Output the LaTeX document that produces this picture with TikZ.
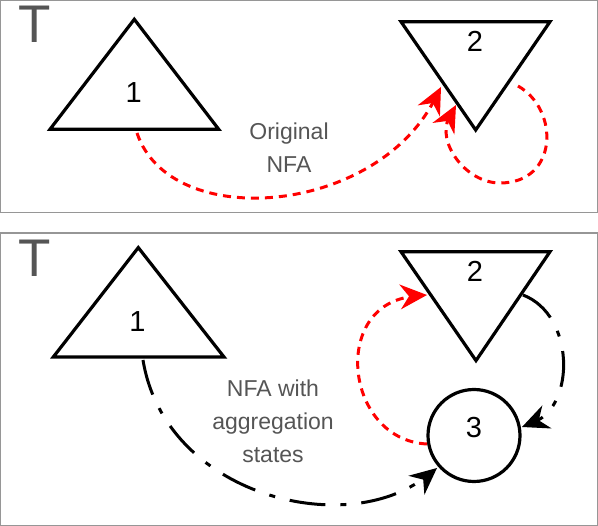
\documentclass[tikz,border=0pt]{standalone}
\usepackage{fontspec}
\setmainfont{Liberation Sans}
\definecolor{txtgray}{RGB}{85,85,85}
\definecolor{framegray}{RGB}{150,150,150}
\definecolor{arrred}{RGB}{255,0,0}
\tikzset{
  panel/.style={draw=framegray, line width=1.2pt},
  tri/.style={draw=black, line width=3.2pt, line join=miter},
  statecircle/.style={circle, draw=black, line width=3.2pt, minimum size=92pt, inner sep=0pt,
    font=\fontsize{29}{29}\selectfont, text height=8pt, text depth=3pt},
  redline/.style={draw=arrred, line width=3pt, dash pattern=on 8pt off 6pt, shorten >=14pt},
  blkline/.style={draw=black, line width=3pt, dash pattern=on 36pt off 15pt on 6pt off 15pt, shorten >=14pt},
  redhead/.style={fill=arrred, draw=none},
  blkhead/.style={fill=black, draw=none},
  digit/.style={font=\fontsize{29}{29}\selectfont, anchor=base, inner sep=0pt},
  bigT/.style={font=\fontsize{53}{53}\selectfont, text=txtgray, anchor=base, inner sep=0pt},
  caption/.style={font=\fontsize{23}{33}\selectfont, text=txtgray, align=center, inner sep=0pt}
}
\begin{document}
\begin{tikzpicture}[x=1pt,y=-1pt]
\useasboundingbox (0,0) rectangle (598,526);
% panels
\draw[panel] (0.75,0.75) rectangle (597.25,212.5);
\draw[panel] (0.75,233) rectangle (597.25,525.25);

% ---------- top panel ----------
\node[bigT] (T1) at (35,43) {T};
\draw[tri] (134.3,19.3) -- (218.7,129.3) -- (50,129.3) -- cycle;
\draw[tri] (401,21.7) -- (550,21.7) -- (475.7,130) -- cycle;
\node[digit] (n1) at (133.6,103) {1};
\node[digit] (n2) at (475,52) {2};
\node[caption] (cap1) at (289,148) {Original\\NFA};

\coordinate (s1) at (137,133);
\coordinate (e1) at (441,87);
\draw[redline] (s1) .. controls (170,232) and (375,216) .. (e1);
\fill[redhead] (e1) -- (439.9,116.7) -- (432.8,103.0) -- (417.6,105.4) -- cycle;
\coordinate (s2) at (518,86);
\coordinate (e2) at (456,105);
\draw[redline] (s2) .. controls (560,110) and (558,183) .. (500,183)
  .. controls (465,183) and (436,141) .. (e2);
\fill[redhead] (e2) -- (454.4,134.7) -- (447.6,120.9) -- (432.3,123.0) -- cycle;

% ---------- bottom panel ----------
\node[bigT] (T2) at (35,277) {T};
\draw[tri] (138.3,247.6) -- (224,357) -- (53.3,357) -- cycle;
\draw[tri] (401,251.7) -- (550,251.7) -- (476,360.6) -- cycle;
\node[digit] (m1) at (137.5,332) {1};
\node[digit] (m2) at (475,281.7) {2};
\node[statecircle] (c3) at (474,435.5) {3};
\node[caption] (cap2) at (273,421) {NFA with\\aggregation\\states};

\coordinate (s3) at (143,360);
\coordinate (e3) at (437,468);
\draw[blkline] (s3) .. controls (165,495) and (345,540) .. (e3);
\fill[blkhead] (e3) -- (424.4,494.9) -- (423.2,479.6) -- (408.3,475.8) -- cycle;
\coordinate (s4) at (523,295);
\coordinate (e4) at (522,427);
\draw[blkline] (s4) .. controls (575,315) and (575,405) .. (e4);
\fill[blkhead] (e4) -- (542.4,405.3) -- (538.7,420.3) -- (551.7,428.5) -- cycle;
\coordinate (s5) at (427,444);
\coordinate (e5) at (427,295);
\draw[redline] (s5) .. controls (345,440) and (330,305) .. (e5);
\fill[redhead] (e5) -- (400.9,309.4) -- (409.0,296.3) -- (399.2,284.4) -- cycle;
\end{tikzpicture}
\end{document}
